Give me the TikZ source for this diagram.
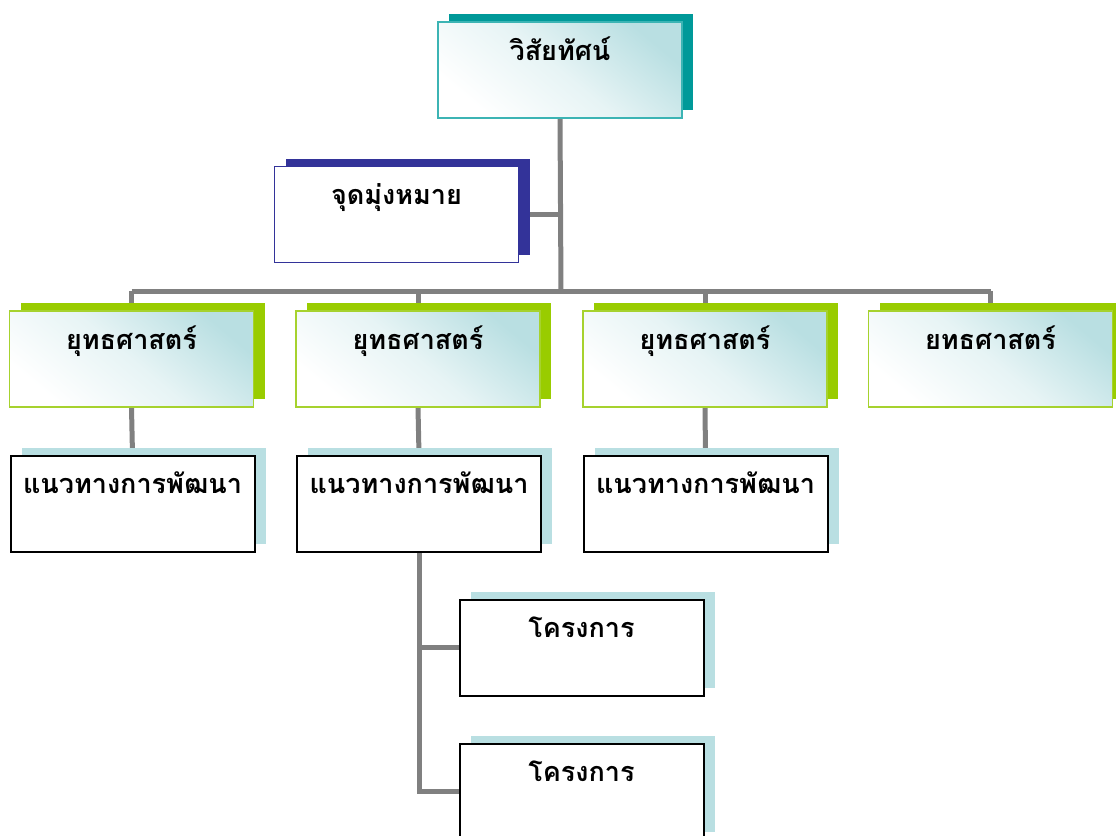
\documentclass[tikz,border=0pt]{standalone}
\usepackage{fontspec}
\newfontfamily\thai[Script=Thai]{Loma}
\usetikzlibrary{shadows}
\pgfdeclarelayer{background}
\pgfsetlayers{background,main}
\definecolor{teal1}{HTML}{009999}
\definecolor{tealb}{HTML}{3CB4B4}
\definecolor{navy}{HTML}{333399}
\definecolor{lime}{HTML}{99CC00}
\definecolor{limeb}{HTML}{A6D22E}
\definecolor{pale}{HTML}{B9DFE2}
\definecolor{conn}{HTML}{808080}
\tikzset{
  box/.style={rectangle, inner sep=0pt, text width=244pt, align=center,
    text height=38pt, text depth=58pt, line width=1.5pt,
    font=\thai\bfseries\fontsize{27}{30}\selectfont},
  grad/.style={shade, shading=axis, top color=pale, bottom color=white, middle color=pale!35, shading angle=-40},
  visbox/.style={box, grad, draw=tealb, general shadow={fill=teal1, shadow xshift=11pt, shadow yshift=8pt}},
  goalbox/.style={box, fill=white, draw=navy, general shadow={fill=navy, shadow xshift=11pt, shadow yshift=8pt}},
  stratbox/.style={box, grad, draw=limeb, general shadow={fill=lime, shadow xshift=11pt, shadow yshift=8pt}},
  devbox/.style={box, fill=white, draw=black, line width=2pt, general shadow={fill=pale, shadow xshift=11pt, shadow yshift=8pt}},
  link/.style={draw=conn, line width=5pt}
}
\begin{document}
\begin{tikzpicture}[x=1pt,y=-1pt]
\useasboundingbox (0,0) rectangle (1116,835);
\node[visbox] (vis) at (560,70) {วิสัยทัศน์};
\node[goalbox] (goal) at (396.5,214.5) {จุดมุ่งหมาย};
\node[stratbox] (s1) at (131.5,359) {ยุทธศาสตร์};
\node[stratbox] (s2) at (418,359) {ยุทธศาสตร์};
\node[stratbox] (s3) at (705,359) {ยุทธศาสตร์};
\node[stratbox] (s4) at (990.5,359) {ยทธศาสตร์};
\node[devbox] (d1) at (132.5,503.5) {แนวทางการพัฒนา};
\node[devbox] (d2) at (419,503.5) {แนวทางการพัฒนา};
\node[devbox] (d3) at (705.5,503.5) {แนวทางการพัฒนา};
\node[devbox] (p1) at (581.5,647.5) {โครงการ};
\node[devbox] (p2) at (581.5,791.5) {โครงการ};
\coordinate (hb) at (561,291);
\begin{pgfonlayer}{background}
\draw[link] (vis.south) -- (hb);
\draw[link] (goal.east) -- (goal.east -| hb);
\draw[link] (s1.north |- hb) -- (s4.north |- hb);
\draw[link] (s1.north |- hb) -- (s1.north);
\draw[link] (s2.north |- hb) -- (s2.north);
\draw[link] (s3.north |- hb) -- (s3.north);
\draw[link] (s4.north |- hb) -- (s4.north);
\draw[link] (s1.south) -- (d1.north);
\draw[link] (s2.south) -- (d2.north);
\draw[link] (s3.south) -- (d3.north);
\draw[link] (d2.south) -- (d2.south |- p2.west) -- (p2.west);
\draw[link] (d2.south |- p1.west) -- (p1.west);
\end{pgfonlayer}
\end{tikzpicture}
\end{document}
